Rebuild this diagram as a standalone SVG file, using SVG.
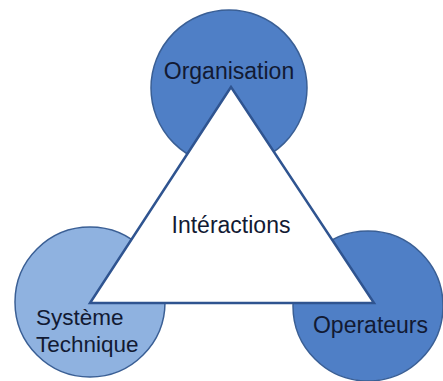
<svg xmlns="http://www.w3.org/2000/svg" width="443" height="381" viewBox="0 0 443 381">
<style>
  .circ { stroke: #3a5f95; stroke-width: 1.5; }
  .dark { fill: #4f7fc6; }
  .light { fill: #8fb2e0; }
  .tri { fill: #ffffff; stroke: #2f5490; stroke-width: 2.5; stroke-linejoin: miter; }
  .lbl { font-family: "Liberation Sans", Arial, sans-serif; font-size: 23px; fill: #121a33; }
</style>
<rect width="443" height="381" fill="#ffffff"/>
<g id="organisation">
  <circle class="circ dark" cx="229" cy="88" r="78"/>
  <text class="lbl" x="229" y="79" text-anchor="middle">Organisation</text>
</g>
<g id="systeme-technique">
  <circle class="circ light" cx="90" cy="302" r="75"/>
</g>
<g id="operateurs">
  <circle class="circ dark" cx="368" cy="306" r="75"/>
</g>
<g id="interactions">
  <polygon class="tri" points="231,87 90,303 374,303"/>
  <text class="lbl" x="231" y="233" text-anchor="middle">Intéractions</text>
</g>
<g id="labels">
  <text class="lbl" x="36" y="325" style="font-size:22.5px">Système</text>
  <text class="lbl" x="36" y="352" style="font-size:22.5px">Technique</text>
  <text class="lbl" x="370.5" y="333" text-anchor="middle">Operateurs</text>
</g>
<g id="connectors"/>
</svg>
